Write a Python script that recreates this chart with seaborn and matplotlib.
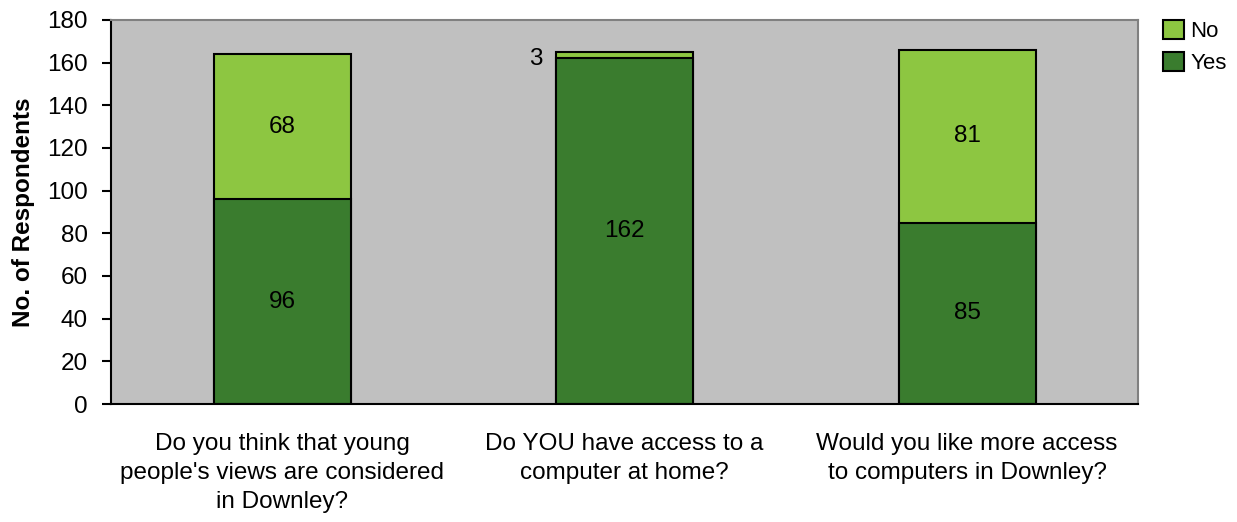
import numpy as np
import pandas as pd
import matplotlib
matplotlib.use("Agg")
import matplotlib.pyplot as plt
import seaborn as sns
from matplotlib.patches import Patch

questions = ["Do you think that young\npeople's views are considered\nin Downley?",
             "Do YOU have access to a\ncomputer at home?",
             "Would you like more access\nto computers in Downley?"]
yes_vals = [96, 162, 85]
no_vals = [68, 3, 81]

sns.set_theme(style="white")
plt.rcParams["font.family"] = ["Liberation Sans", "DejaVu Sans"]
plt.rcParams["text.color"] = "black"
plt.rcParams["axes.labelcolor"] = "black"
plt.rcParams["xtick.color"] = "black"
plt.rcParams["ytick.color"] = "black"

df = pd.DataFrame({"question": questions, "Yes": yes_vals, "No": no_vals})
df["total"] = df["Yes"] + df["No"]

yes_col = "#3A7C2E"
no_col = "#8DC641"
fs = 17.5

fig = plt.figure(figsize=(12.37, 5.22), dpi=100)
ax = fig.add_axes([0.0897, 0.226, 0.8306, 0.736])
ax.set_facecolor("#C0C0C0")

# stacked: total bar (No colour) behind, Yes bar in front
sns.barplot(data=df, x="question", y="total", color=no_col, saturation=1,
            width=0.4, edgecolor="black", linewidth=1.5, ax=ax)
sns.barplot(data=df, x="question", y="Yes", color=yes_col, saturation=1,
            width=0.4, edgecolor="black", linewidth=1.5, ax=ax)

# segment labels
for i, (y, n) in enumerate(zip(yes_vals, no_vals)):
    ax.text(i, y / 2, str(y), ha="center", va="center", fontsize=fs)
    if n > 10:
        ax.text(i, y + n / 2, str(n), ha="center", va="center", fontsize=fs)
    else:
        ax.text(i - 0.24, y + n / 2 - 2, str(n), ha="right", va="center", fontsize=fs)

ax.set_xlim(-0.5, 2.5)
ax.set_ylim(0, 180)
ax.set_yticks(range(0, 181, 20))
ax.set_ylabel("No. of Respondents", fontsize=fs, fontweight="bold", labelpad=9)
ax.set_xlabel("")
ax.set_xticks(range(3))
ax.set_xticklabels(questions, fontsize=fs, linespacing=1.42, va="top")
ax.set_xticks([-0.5, 0.5, 1.5, 2.5], minor=True)
ax.tick_params(axis="x", which="major", length=0, pad=21)
ax.tick_params(axis="x", which="minor", length=6.5, width=1.5, color="black", direction="out")
ax.tick_params(axis="y", labelsize=fs, length=6.5, width=1.5, color="black", direction="out",
               left=True, pad=10)

for s in ["left", "bottom"]:
    ax.spines[s].set_color("black")
    ax.spines[s].set_linewidth(1.5)
for s in ["top", "right"]:
    ax.spines[s].set_color("#808080")
    ax.spines[s].set_linewidth(1.5)

handles = [Patch(facecolor=no_col, edgecolor="black", linewidth=1.5, label="No"),
           Patch(facecolor=yes_col, edgecolor="black", linewidth=1.5, label="Yes")]
fig.legend(handles=handles, loc="upper left", bbox_to_anchor=(0.94, 0.962),
           frameon=False, fontsize=16, handlelength=0.95, handleheight=0.95,
           handletextpad=0.3, labelspacing=0.45, borderaxespad=0, borderpad=0)

fig.savefig("out.png", dpi=100)
